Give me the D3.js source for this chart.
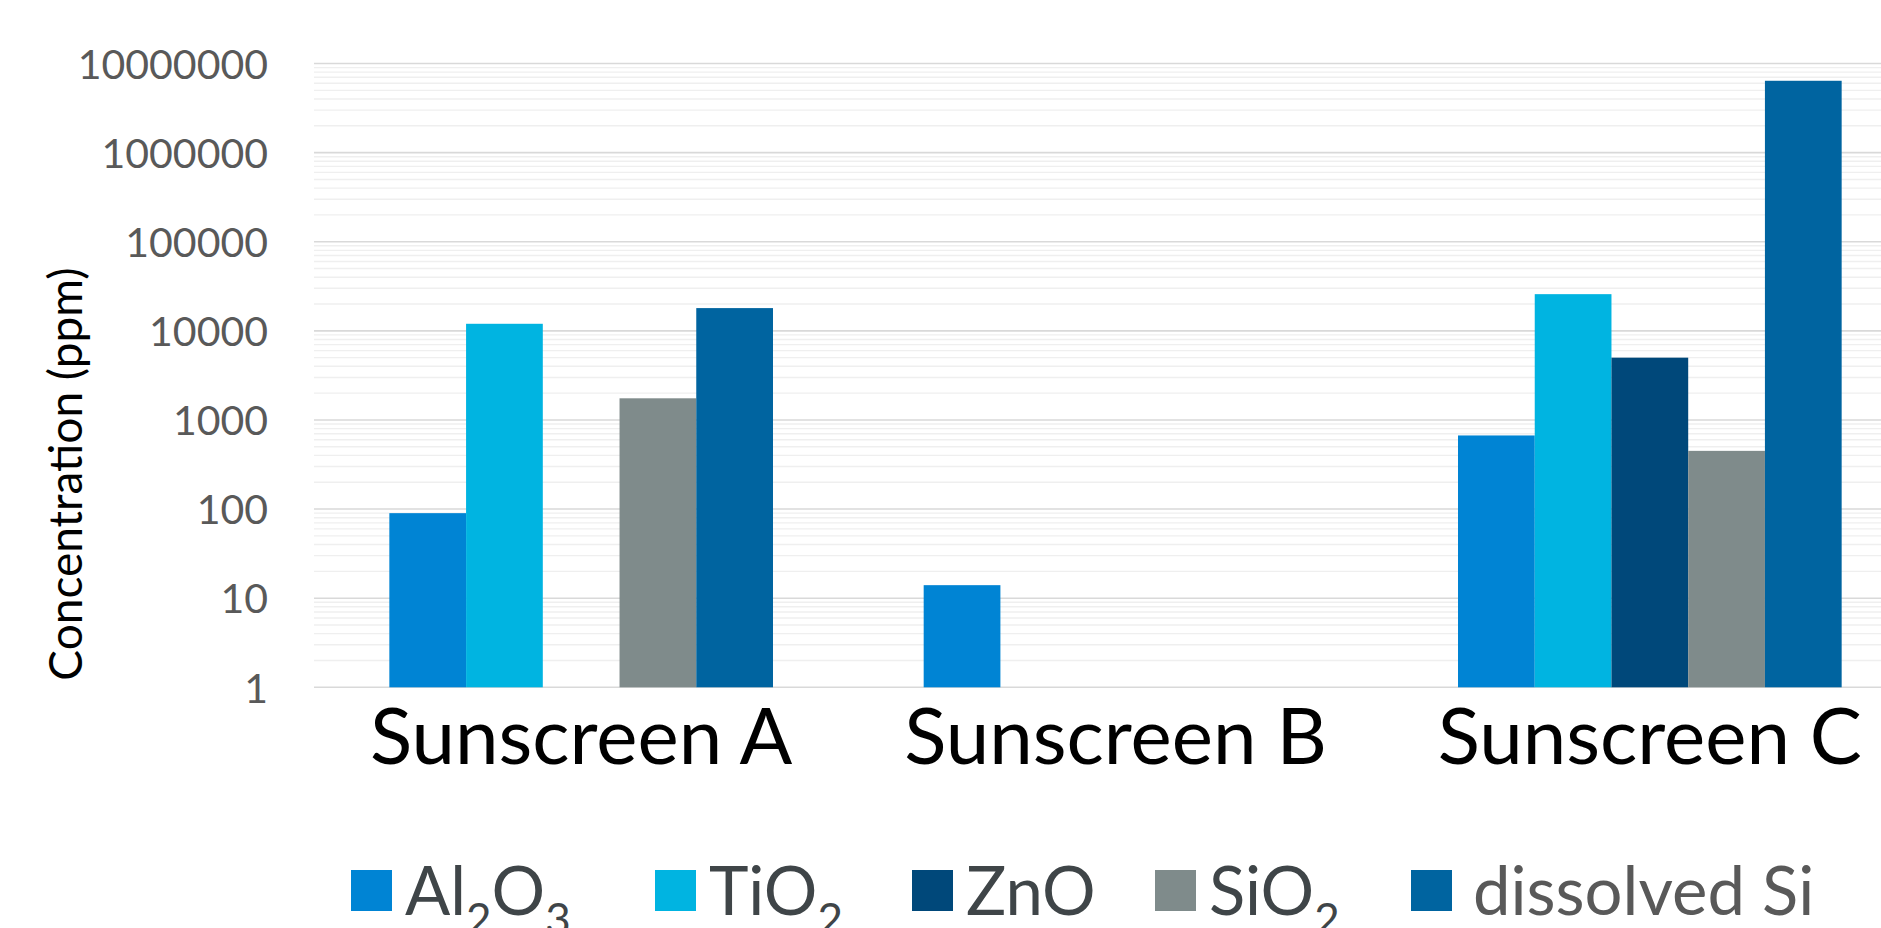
<!DOCTYPE html>
<html>
<head>
<meta charset="utf-8">
<script src="https://cdn.jsdelivr.net/npm/d3@7"></script>
<style>
  html, body { margin: 0; padding: 0; background: #fff; overflow: hidden; }
  svg { display: block; font-family: Lato, "Open Sans", sans-serif; }
</style>
</head>
<body>
<script>
"use strict";

// data

const categories = ['Sunscreen A', 'Sunscreen B', 'Sunscreen C'];
const seriesKeys = ['al2o3', 'tio2', 'zno', 'sio2', 'dissolved'];
// legend labels: [text, kind] pieces, 'sub' is drawn as subscript
const seriesLabels = [
    [['Al', ''], ['2', 'sub'], ['O', ''], ['3', 'sub']],
    [['TiO', ''], ['2', 'sub']],
    [['ZnO', '']],
    [['SiO', ''], ['2', 'sub']],
    [['dissolved Si', '']]
];
const al2o3 = [90, 14, 670];
const tio2 = [12000, null, 25800];
const zno = [null, null, 5000];
const sio2 = [1750, null, 450];
const dissolved = [18000, null, 6400000];
const yTicks = [1, 10, 100, 1000, 10000, 100000, 1000000, 10000000];

const colors = ['#0084d4', '#00b4e1', '#00487a', '#7f8b8b', '#0064a0'];
const labelColors = ['#3f4548', '#3f4548', '#3f4548', '#3f4548', '#595959'];
const seriesValues = [al2o3, tio2, zno, sio2, dissolved];

// layout

const W = 1881, H = 928;
const plot = {left: 314, right: 1917, top: 63.5, bottom: 687.3};

const svg = d3.select('body')
    .append('svg')
    .attr('width', W)
    .attr('height', H);

const x0 = d3.scaleBand()
    .domain(categories)
    .range([plot.left, plot.right])
    .paddingInner(0.282)
    .paddingOuter(0.141);

const x1 = d3.scaleBand()
    .domain(seriesKeys)
    .range([0, x0.bandwidth()]);

const y = d3.scaleLog()
    .domain([1, 1e7])
    .range([plot.bottom, plot.top]);

// gridlines: minor first, then majors on top
let minor = [];
yTicks.slice(0, -1).forEach((t) => {
    for (let k = 2; k <= 9; k++) minor.push(t * k);
});

svg.append('g')
    .selectAll('line')
    .data(minor)
    .enter()
    .append('line')
    .attr('x1', plot.left)
    .attr('x2', plot.right)
    .attr('y1', (d) => y(d))
    .attr('y2', (d) => y(d))
    .attr('stroke', '#efefef')
    .attr('stroke-width', 1.4);

svg.append('g')
    .selectAll('line')
    .data(yTicks)
    .enter()
    .append('line')
    .attr('x1', plot.left)
    .attr('x2', plot.right)
    .attr('y1', (d) => y(d))
    .attr('y2', (d) => y(d))
    .attr('stroke', '#d9d9d9')
    .attr('stroke-width', 1.6);

// bars
const bars = [];
categories.forEach((c, i) => {
    seriesKeys.forEach((k, j) => {
	let v = seriesValues[j][i];
	if (v !== null) bars.push({cat: c, key: k, j: j, value: v});
    });
});

svg.append('g')
    .selectAll('rect')
    .data(bars)
    .enter()
    .append('rect')
    .attr('x', (d) => x0(d.cat) + x1(d.key))
    .attr('y', (d) => y(d.value))
    .attr('width', x1.bandwidth())
    .attr('height', (d) => y(1) - y(d.value))
    .attr('fill', (d) => colors[d.j]);

// y axis labels
const yAxis = d3.axisLeft(y)
    .tickValues(yTicks)
    .tickFormat(d3.format('d'))
    .tickSize(0)
    .tickPadding(46);

const yg = svg.append('g')
    .attr('transform', 'translate(' + plot.left + ',0)')
    .call(yAxis);
yg.select('.domain').remove();
yg.selectAll('text')
    .attr('fill', '#595959')
    .style('font-family', 'Lato, sans-serif')
    .style('font-size', '41px')
    .attr('dy', '0.36em');

// y axis title
svg.append('text')
    .attr('transform', 'translate(82,474) rotate(-90)')
    .attr('text-anchor', 'middle')
    .attr('fill', '#000')
    .style('font-size', '46px')
    .text('Concentration (ppm)');

// category labels
svg.append('g')
    .selectAll('text')
    .data(categories)
    .enter()
    .append('text')
    .attr('x', (d) => x0(d) + x0.bandwidth() / 2)
    .attr('y', 764)
    .attr('text-anchor', 'middle')
    .attr('fill', '#000')
    .style('font-size', '78px')
    .text((d) => d);

// legend
const legendX = [351, 655, 912, 1155, 1411];
const lg = svg.append('g')
    .selectAll('g')
    .data(seriesKeys)
    .enter()
    .append('g')
    .attr('transform', (d, i) => 'translate(' + legendX[i] + ',870)');

lg.append('rect')
    .attr('width', 41)
    .attr('height', 41)
    .attr('fill', (d, i) => colors[i]);

lg.append('text')
    .attr('x', (d, i) => i === 4 ? 62 : 54)
    .attr('y', 45)
    .attr('fill', (d, i) => labelColors[i])
    .style('font-size', '67px')
    .each(function (d, i) {
	let t = d3.select(this);
	let shifted = false;
	seriesLabels[i].forEach((p) => {
	    let span = t.append('tspan').text(p[0]);
	    if (p[1] === 'sub') {
		span.style('font-size', '44px').attr('dy', shifted ? 0 : 20);
		shifted = true;
	    } else if (shifted) {
		span.attr('dy', -20);
		shifted = false;
	    }
	});
    });
</script>
</body>
</html>
